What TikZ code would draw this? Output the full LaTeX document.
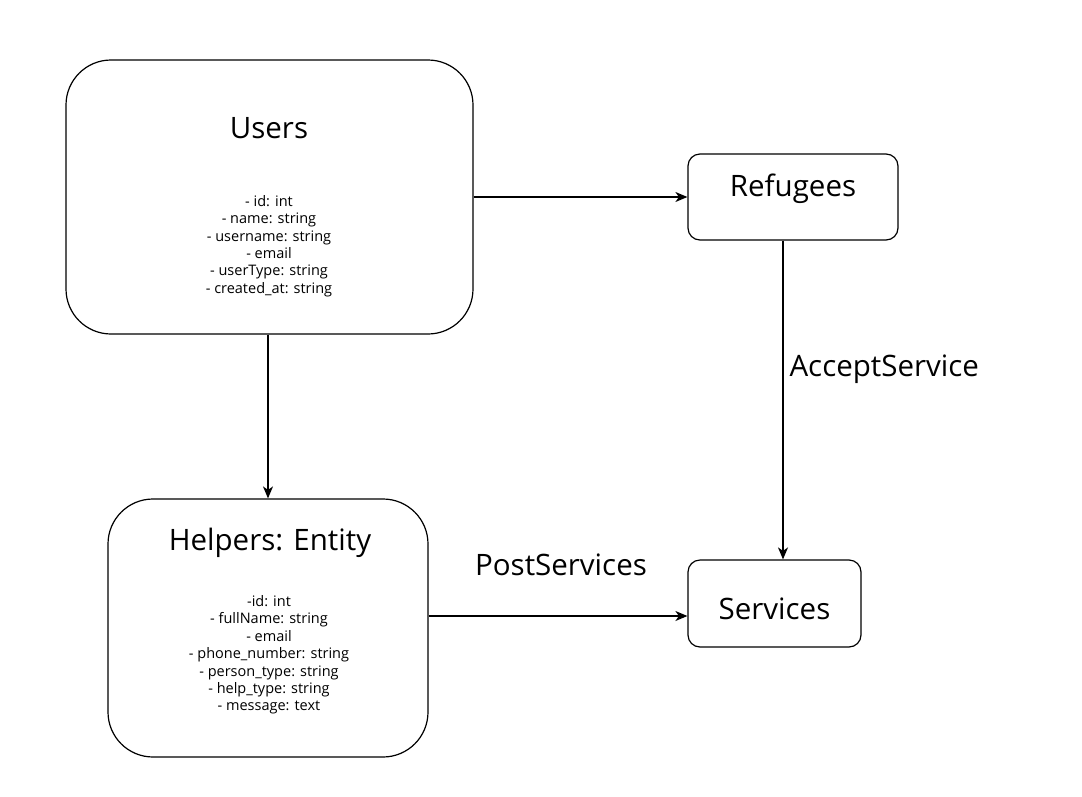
\documentclass[tikz,border=0pt]{standalone}
\usepackage{fontspec}
\setmainfont{Open Sans}
\usetikzlibrary{positioning, arrows.meta}

\tikzset{
	entity/.style={draw, rounded corners=45pt, line width=1.2pt},
	table/.style={draw, rounded corners=12pt, line width=1.2pt},
	title/.style={font=\fontsize{29.5}{35}\selectfont},
	fields/.style={align=center, font=\fontsize{14.5}{17.4}\selectfont},
	link/.style={->, line width=1.2pt}
}

\begin{document}
\begin{tikzpicture}[x=1pt, y=-1pt, >={Stealth[length=12pt, width=10pt, inset=3.5pt]}]

		\useasboundingbox (0,0) rectangle (1082,796);

		% boxes
		\node [entity, minimum width=407pt, minimum height=274pt] (users) at (269.5,197) {};
		\node [entity, minimum width=320pt, minimum height=258pt] (helpers) at (268,628) {};
		\node [table, minimum width=210pt, minimum height=86pt] (refugees) at (793,197) {};
		\node [table, minimum width=173pt, minimum height=87pt] (services) at (774.5,603.5) {};

		% titles
		\node [title] (users-title) at (269,128) {Users};
		\node [title] (helpers-title) at (270,543) {Helpers: Entity};
		\node [title] (refugees-title) at (793,189) {Refugees};
		\node [title] (services-title) at (774.5,609) {Services};

		% fields
		\node [fields] (users-fields) at (269,246) {- id: int\\- name: string\\- username: string\\- email\\- userType: string\\- created\_at: string};
		\node [fields] (helpers-fields) at (269,655) {-id: int\\- fullName: string\\- email\\- phone\_number: string\\- person\_type: string\\- help\_type: string\\- message: text};

		% lines
		\draw [link] (users.east) -- (refugees.west);
		\draw [link] (users.south -| helpers.north) -- (helpers.north);
		\draw [link] ([xshift=-10pt]refugees.south) -- ([xshift=8.5pt]services.north);
		\draw [link] ([yshift=12pt]helpers.east) -- ([yshift=-12.5pt]services.west);

		% labels
		\node [title, right] (accept-label) at (786,369) {AcceptService};
		\node [title] (post-label) at (561,565) {PostServices};

		\end{tikzpicture}
\end{document}
